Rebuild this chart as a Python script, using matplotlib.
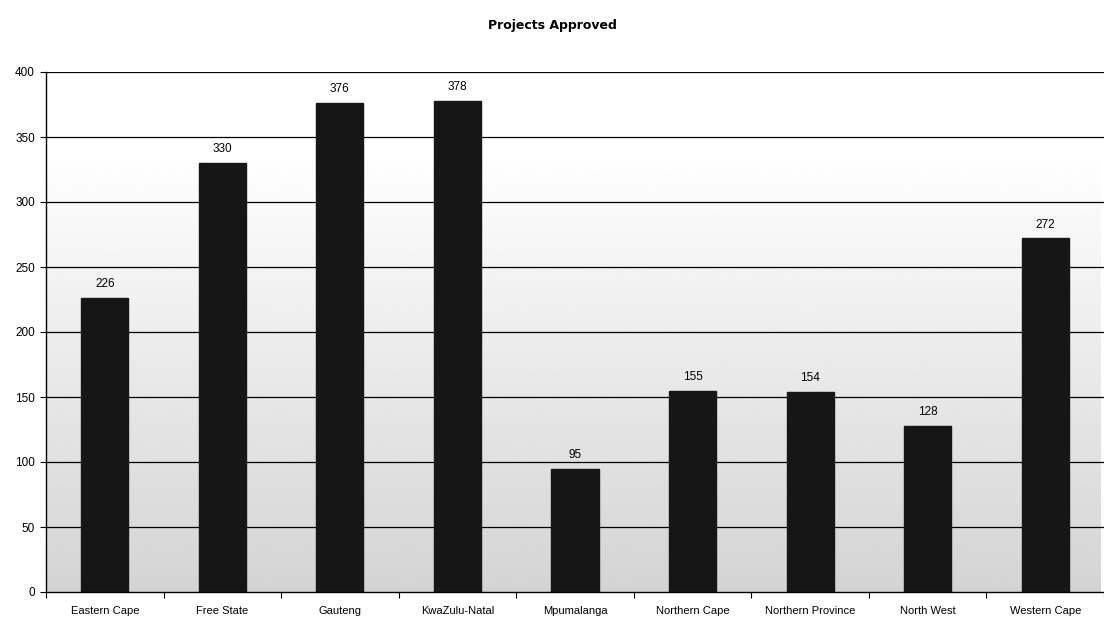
import numpy as np
import matplotlib
matplotlib.use("Agg")
import matplotlib.pyplot as plt

# ------------------------------------------------------------
# Data
# ------------------------------------------------------------
provinces = ["Eastern Cape", "Free State", "Gauteng", "KwaZulu-Natal",
             "Mpumalanga", "Northern Cape", "Northern Province",
             "North West", "Western Cape"]
approved = [226, 330, 376, 378, 95, 155, 154, 128, 272]

y_ticks = list(range(0, 401, 50))

# ------------------------------------------------------------
# Figure
# ------------------------------------------------------------
W, H = 1104, 624
fig = plt.figure(figsize=(W / 100, H / 100), dpi=100)
fig.patch.set_facecolor("white")

left_px, top_px, bottom_px = 46, 72, 592
ax = fig.add_axes([left_px / W, (H - bottom_px) / H,
                   1 - left_px / W, (bottom_px - top_px) / H])

slot_px = 118
x = np.arange(len(provinces))
x_max = -0.5 + (W - left_px) / slot_px

# light gradient fill, white at the top fading to grey at the bottom
grad = np.linspace(0.0, 1.0, 256).reshape(-1, 1)
grad = np.clip((grad - 0.15) / 0.85, 0, 1)
ax.imshow(1 - 0.17 * grad, cmap="gray", vmin=0, vmax=1, aspect="auto",
          origin="upper", extent=(-0.5, x_max, 0, 400), zorder=0,
          interpolation="bilinear")
ax.set_xlim(-0.5, x_max)
ax.set_ylim(0, 400)

# horizontal grid lines
for yv in y_ticks[1:]:
    ax.axhline(yv, color="black", linewidth=0.9, zorder=1)

bars = ax.bar(x, approved, width=0.4, color="#161616", edgecolor="#161616",
              zorder=2)

for xi, v in zip(x, approved):
    ax.text(xi, v + 6, str(v), ha="center", va="bottom", fontsize=8.5,
            family="Liberation Sans", zorder=3)

# axes styling
for side in ["top", "right"]:
    ax.spines[side].set_visible(False)
ax.spines["left"].set_linewidth(1.0)
ax.spines["bottom"].set_linewidth(1.0)

ax.set_yticks(y_ticks)
ax.set_yticklabels([str(t) for t in y_ticks], fontsize=8.5,
                   family="Liberation Sans")
ax.tick_params(axis="y", length=4, width=0.8, pad=4)

# category labels centred under bars, tick marks on the category borders
ax.set_xticks(x)
ax.set_xticklabels(provinces, fontsize=8, family="Liberation Sans")
ax.tick_params(axis="x", which="major", length=0, pad=10)
ax.set_xticks(np.arange(-0.5, len(provinces) + 0.5), minor=True)
ax.tick_params(axis="x", which="minor", length=4, width=0.8)

fig.text(0.5, 1 - 25 / H, "Projects Approved", ha="center", va="center",
         fontsize=9, fontweight="bold", family="DejaVu Sans")

fig.savefig("out.png", dpi=100)
